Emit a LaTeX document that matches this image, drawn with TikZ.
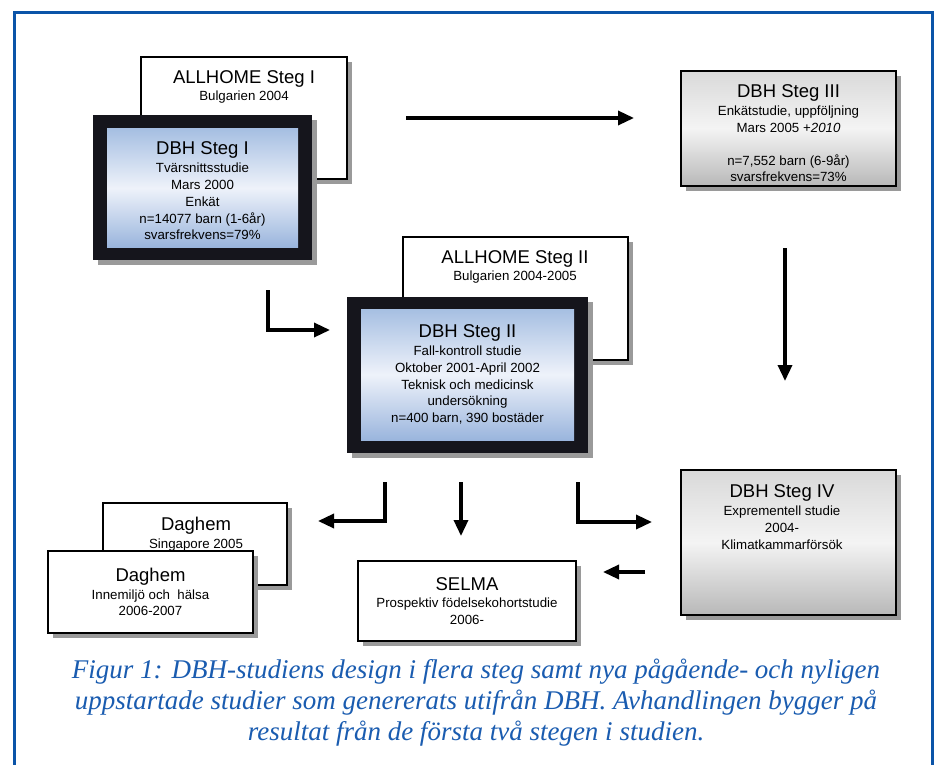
\documentclass[tikz,border=0pt]{standalone}
\usepackage{fontspec}
\setmainfont{Liberation Serif}
\setsansfont{Liberation Sans}
\usetikzlibrary{arrows.meta}
\definecolor{frameblue}{HTML}{0B54A8}
\definecolor{capblue}{HTML}{1A5CB0}
\definecolor{shadowgray}{HTML}{9A9A9A}
\definecolor{darkframe}{HTML}{15151C}
\definecolor{bluetop}{HTML}{A6BFE2}
\definecolor{bluemid}{HTML}{EEF2FA}
\definecolor{bluebot}{HTML}{9AB5DD}
\definecolor{graytop}{HTML}{D9D9D9}
\definecolor{graymid}{HTML}{F4F4F4}
\definecolor{graybot}{HTML}{B8B8B8}
\newcommand{\bigt}{\fontsize{18.5}{21}\selectfont}
\newcommand{\smallt}{\fontsize{13.3}{16.8}\selectfont}
\tikzset{
  whitebox/.style={draw=black, line width=1.4pt, fill=white, inner sep=0pt, outer sep=0pt},
  darkbox/.style={fill=darkframe, inner sep=0pt, outer sep=0pt},
  bluebox/.style={top color=bluetop, bottom color=bluebot, middle color=bluemid, inner sep=0pt, outer sep=0pt, align=center, font=\sffamily\smallt},
  graybox/.style={draw=black, line width=1.4pt, top color=graytop, bottom color=graybot, middle color=graymid, inner sep=0pt, outer sep=0pt, align=center, font=\sffamily\smallt},
  txt/.style={align=center, inner sep=0pt, font=\sffamily\smallt},
  shadowfill/.style={fill=shadowgray},
  conn/.style={line width=3.4pt, -{Triangle[length=16pt,width=14pt]}},
}
\begin{document}
\begin{tikzpicture}[x=1pt,y=-1pt]
\useasboundingbox (0,0) rectangle (940,765);
\fill[white] (0,0) rectangle (940,765);
% frame
\draw[frameblue, line width=3pt] (14,775) -- (14,13) -- (932,13) -- (932,775);

% ALLHOME Steg I
\fill[shadowfill] (146,62) rectangle (352,184);
\node[whitebox, minimum width=206pt, minimum height=122pt] (ah1) at (244,118) {};
\node[txt] (ah1t) at (244,87) {{\bigt ALLHOME Steg I}\\[1pt]Bulgarien 2004};

% DBH Steg I
\fill[shadowfill] (98,120) rectangle (317,265);
\node[darkbox, minimum width=219pt, minimum height=145pt] (dbh1o) at (202.5,187.5) {};
\node[bluebox, minimum width=191pt, minimum height=118pt] (dbh1) at (202.5,188) {};
\node[txt] (dbh1t) at (202.5,191)
  {{\bigt DBH Steg I}\\[1pt]Tvärsnittsstudie\\Mars 2000\\Enkät\\n=14077 barn (1-6år)\\svarsfrekvens=79\%};

% DBH Steg III
\fill[shadowfill] (686,76) rectangle (901,191);
\node[graybox, minimum width=215pt, minimum height=115pt] (dbh3) at (788.5,128.5) {};
\node[txt] (dbh3t) at (788.5,133.5)
  {{\bigt DBH Steg III}\\[1pt]Enkätstudie, uppföljning\\Mars 2005 +\textit{2010}\\[16pt]n=7,552 barn (6-9år)\\svarsfrekvens=73\%};

% ALLHOME Steg II
\fill[shadowfill] (408,242) rectangle (633,365);
\node[whitebox, minimum width=225pt, minimum height=123pt] (ah2) at (515.5,298.5) {};
\node[txt] (ah2t) at (515,267) {{\bigt ALLHOME Steg II}\\[1pt]Bulgarien 2004-2005};

% DBH Steg II
\fill[shadowfill] (352,302) rectangle (593,458);
\node[darkbox, minimum width=241pt, minimum height=156pt] (dbh2o) at (467.5,375) {};
\node[bluebox, minimum width=213pt, minimum height=131pt] (dbh2) at (467.5,374.5)
  {{\bigt DBH Steg II}\\[1pt]Fall-kontroll studie\\Oktober 2001-April 2002\\Teknisk och medicinsk\\undersökning\\n=400 barn, 390 bostäder};

% Daghem Singapore
\fill[shadowfill] (108,508) rectangle (292,590);
\node[whitebox, minimum width=184pt, minimum height=82pt] (dg1) at (195,544) {};
\node[txt] (dg1t) at (196,534) {{\bigt Daghem}\\[1pt]Singapore 2005};

% Daghem Innemiljo
\fill[shadowfill] (53,556) rectangle (258,638);
\node[whitebox, minimum width=205pt, minimum height=82pt, align=center, font=\sffamily\smallt] (dg2) at (150.5,592)
  {{\bigt Daghem}\\[1pt]Innemiljö och\ \ hälsa\\2006-2007};

% SELMA
\fill[shadowfill] (363,566) rectangle (581,646);
\node[whitebox, minimum width=218pt, minimum height=80pt, align=center, font=\sffamily\smallt] (selma) at (467,601)
  {{\bigt SELMA}\\[1pt]Prospektiv födelsekohortstudie\\2006-};

% DBH Steg IV
\fill[shadowfill] (686,475) rectangle (901,620);
\node[graybox, minimum width=215pt, minimum height=145pt] (dbh4) at (788.5,542.5) {};
\node[txt] (dbh4t) at (782,517) {{\bigt DBH Steg IV}\\[1pt]Exprementell studie\\2004-\\Klimatkammarförsök};

% connector end points
\coordinate (a1s) at (406,118);  \coordinate (a1e) at (634,118);
\coordinate (a2s) at (785,248);  \coordinate (a2e) at (785,381);
\coordinate (a3s) at (268,290);  \coordinate (a3e) at (330,330);
\coordinate (a4s) at (385,482);  \coordinate (a4e) at (318,521);
\coordinate (a5s) at (461,482);  \coordinate (a5e) at (461,536);
\coordinate (a6s) at (578,482);  \coordinate (a6e) at (652,522);
\coordinate (a7s) at (645,572);  \coordinate (a7e) at (603,572);

\draw[conn] (a1s) -- (a1e);
\draw[conn] (a2s) -- (a2e);
\draw[conn] (a3s) |- (a3e);
\draw[conn] (a4s) |- (a4e);
\draw[conn] (a5s) -- (a5e);
\draw[conn] (a6s) |- (a6e);
\draw[conn] (a7s) -- (a7e);

% caption
\node[align=center, inner sep=0pt, text=capblue, font=\rmfamily\itshape\fontsize{27}{31}\selectfont] (cap) at (476,703)
  {Figur 1: DBH-studiens design i flera steg samt nya pågående- och nyligen\\
   uppstartade studier som genererats utifrån DBH. Avhandlingen bygger på\\
   resultat från de första två stegen i studien.};
\end{tikzpicture}
\end{document}
